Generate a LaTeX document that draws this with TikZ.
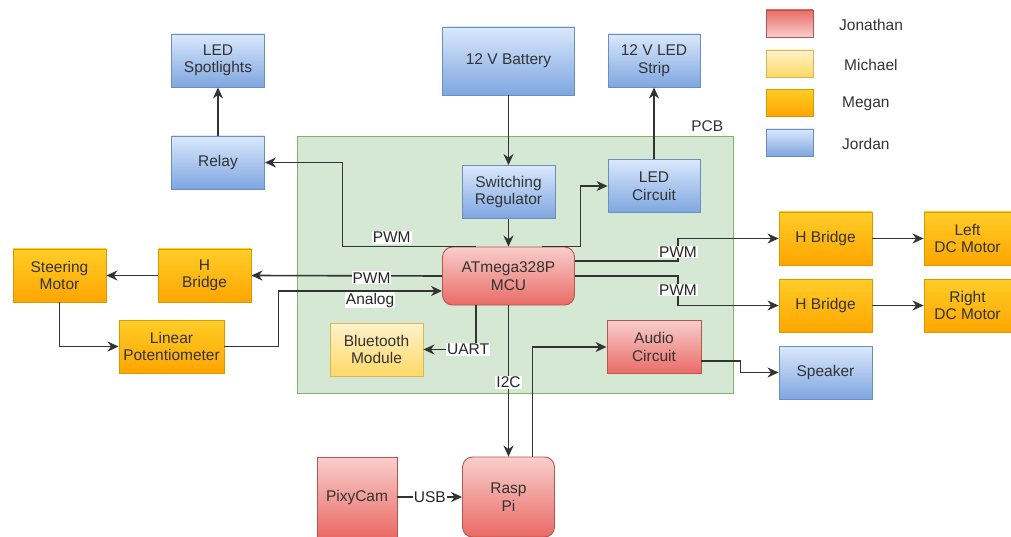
\documentclass[tikz,border=0pt]{standalone}
\usepackage{fontspec}
\setmainfont{Liberation Sans}
\usetikzlibrary{arrows.meta}
\definecolor{blueT}{HTML}{DAE8FC}
\definecolor{blueB}{HTML}{7EA6E0}
\definecolor{blueD}{HTML}{6C8EBF}
\definecolor{redT}{HTML}{F8CECC}
\definecolor{redB}{HTML}{EA6B66}
\definecolor{redD}{HTML}{B85450}
\definecolor{yelT}{HTML}{FFF2CC}
\definecolor{yelB}{HTML}{FFD966}
\definecolor{yelD}{HTML}{D6B656}
\definecolor{oraT}{HTML}{FFCD28}
\definecolor{oraB}{HTML}{FFA500}
\definecolor{oraD}{HTML}{D79B00}
\definecolor{pcbT}{HTML}{D5E8D4}
\definecolor{pcbD}{HTML}{82B366}
\begin{document}
\begin{tikzpicture}[x=1pt,y=-1pt,
  font=\fontsize{15.5}{17.5}\selectfont,
  box/.style={draw,line width=0.9pt,align=center,inner sep=1pt,
    minimum width=93pt,minimum height=53pt,text=black!80},
  jordan/.style={box,draw=blueD,top color=blueT,bottom color=blueB},
  jonathan/.style={box,draw=redD,top color=redT,bottom color=redB},
  michael/.style={box,draw=yelD,top color=yelT,bottom color=yelB},
  megan/.style={box,draw=oraD,top color=oraT,bottom color=oraB},
  legred/.style={box,draw=redD,top color=redB,bottom color=redT},
  wire/.style={line width=1.6pt,draw=black!80},
  arr/.style={wire,-{Stealth[length=11pt,width=10pt,inset=3.5pt]}},
  lbl/.style={fill=white,inner sep=1pt,text=black!85}]
  \useasboundingbox (0,0) rectangle (1011,537);
  % board
  \node[draw=pcbD,fill=pcbT,line width=0.9pt,minimum width=436pt,minimum height=257pt] (pcb) at (515,264.5) {};
  \node[anchor=south east,inner sep=0pt,text=black!80] (pcbl) at ([xshift=-10pt,yshift=4pt]pcb.north east) {PCB};
  % power and lights
  \node[jordan] (spot) at (218,60.5) {LED\\Spotlights};
  \node[jordan,minimum width=132pt,minimum height=68pt] (batt) at (508.5,61) {12 V Battery};
  \node[jordan,minimum width=92pt] (strip) at (654,60.5) {12 V LED\\Strip};
  \node[jordan] (relay) at (218,162.5) {Relay};
  \node[jordan] (sreg) at (508.5,192) {Switching\\Regulator};
  \node[jordan,minimum width=92pt] (ledc) at (654,186) {LED\\Circuit};
  % controller
  \node[jonathan,rounded corners=10pt,minimum width=132pt,minimum height=58pt] (mcu) at (508.5,276) {ATmega328P\\MCU};
  \node[michael] (bt) at (376.5,349.5) {Bluetooth\\Module};
  \node[jonathan,minimum width=94pt] (audio) at (654,347) {Audio\\Circuit};
  % steering
  \node[megan] (steer) at (59.5,275.5) {Steering\\Motor};
  \node[megan] (hbl) at (204.5,275.5) {H\\Bridge};
  \node[megan,minimum width=105pt] (pot) at (171.5,346.5) {Linear\\Potentiometer};
  % drive
  \node[megan] (hb1) at (825.5,238.5) {H Bridge};
  \node[megan,minimum width=87pt] (lm) at (967.5,238.5) {Left\\DC Motor};
  \node[megan] (hb2) at (825.5,305.5) {H Bridge};
  \node[megan,minimum width=87pt] (rm) at (967.5,305.5) {Right\\DC Motor};
  \node[jordan] (spk) at (825.5,372.5) {Speaker};
  % camera
  \node[jonathan,minimum width=80pt,minimum height=80pt] (pixy) at (357,497) {PixyCam};
  \node[jonathan,rounded corners=10pt,minimum width=92pt,minimum height=80pt] (rpi) at (508.5,497) {Rasp\\Pi};
  % legend
  \foreach \nm/\st/\xx/\yy in {Jonathan/legred/839/23.5,Michael/michael/844/63.5,Megan/megan/842/103,Jordan/jordan/842/142.5}{
    \node[\st,minimum width=47pt,minimum height=27pt] (leg\nm) at (789.5,\yy) {};
    \node[anchor=west,inner sep=0pt,text=black!80] (txt\nm) at (\xx,\yy+1) {\nm};
  }
  % connectors
  \draw[arr] (batt) -- (sreg);
  \draw[arr] (sreg) -- (mcu);
  \draw[arr] ([xshift=33pt]mcu.north) -- ++(39,0) |- (ledc.west);
  \draw[arr] (ledc) -- (strip);
  \draw[arr] ([xshift=-33pt]mcu.north) -- node[lbl,above,pos=0.63,yshift=2pt]{PWM} ++(-133,0) |- (relay.east);
  \draw[arr] (relay) -- (spot);
  \draw[arr] (mcu.west) -- node[lbl,pos=0.37,yshift=-2pt]{PWM} (hbl.east);
  \draw[arr] (pot.east) -- ++(54,0) |- node[lbl,below,pos=0.78]{Analog} ([yshift=-15pt]mcu.west);
  \draw[arr] (hbl) -- (steer);
  \draw[arr] (steer.south) |- (pot.west);
  \draw[arr] ([xshift=-32.5pt]mcu.south) |- node[lbl,pos=0.575]{UART} (bt.east);
  \draw[arr] (mcu.south) -- node[lbl,pos=0.51]{I2C} (rpi.north);
  \draw[arr] ([xshift=24pt]rpi.north) |- (audio.west);
  \draw[arr] ([yshift=-14pt]audio.east) -- ++(39,0) |- (spk.west);
  \draw[arr] ([yshift=15pt]mcu.east) -- ++(103,0) |- node[lbl,pos=0.2]{PWM} (hb1.west);
  \draw[arr] (mcu.east) -- ++(103,0) |- node[lbl,pos=0.24]{PWM} (hb2.west);
  \draw[arr] (hb1) -- (lm);
  \draw[arr] (hb2) -- (rm);
  \draw[arr] (pixy) -- node[lbl]{USB} (rpi);
\end{tikzpicture}
\end{document}
